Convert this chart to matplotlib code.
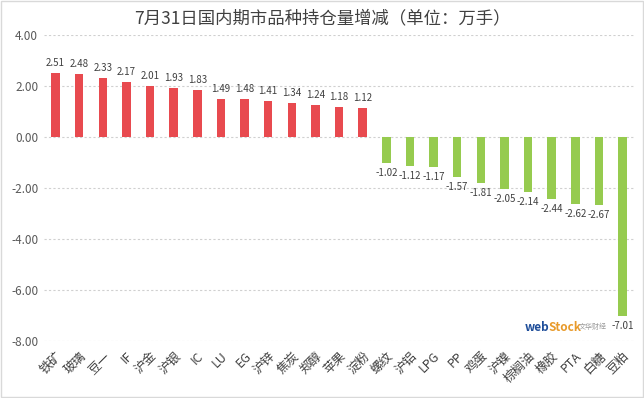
import numpy as np
import matplotlib.pyplot as plt

plt.rcParams['font.family'] = ['Noto Sans CJK SC', 'DejaVu Sans']

# 品种与持仓量增减（万手）
names = ['铁矿', '玻璃', '豆一', 'IF', '沪金', '沪银', 'IC', 'LU', 'EG', '沪锌',
         '焦炭', '郑醇', '苹果', '淀粉', '螺纹', '沪铝', 'LPG', 'PP', '鸡蛋', '沪镍',
         '棕榈油', '橡胶', 'PTA', '白糖', '豆粕']
values = [2.51, 2.48, 2.33, 2.17, 2.01, 1.93, 1.83, 1.49, 1.48, 1.41,
          1.34, 1.24, 1.18, 1.12, -1.02, -1.12, -1.17, -1.57, -1.81, -2.05,
          -2.14, -2.44, -2.62, -2.67, -7.01]
yticks = [4, 2, 0, -2, -4, -6, -8]

red = '#E84A4F'
green = '#96CB4F'

fig = plt.figure(figsize=(6.44, 3.98), dpi=100)
fig.patches.append(plt.Rectangle((0.002, 0.002), 0.996, 0.996, transform=fig.transFigure,
                                 fill=False, edgecolor='#D9D9D9', linewidth=1))
ax = fig.add_axes([0.068, 0.143, 0.917, 0.769])

x = np.arange(len(names))
colors = [red if v > 0 else green for v in values]
ax.bar(x, values, width=0.36, color=colors, zorder=3)

for xi, v in zip(x, values):
    if v > 0:
        ax.text(xi, v + 0.2, '%.2f' % v, ha='center', va='bottom', fontsize=7, color='#404040')
    else:
        ax.text(xi, v - 0.2, '%.2f' % v, ha='center', va='top', fontsize=7, color='#404040')

ax.set_xlim(-0.5, len(names) - 0.5)
ax.set_ylim(-8, 4)
ax.set_yticks(yticks)
ax.set_yticklabels(['%.2f' % t for t in yticks], fontsize=8.5, color='#595959')
ax.set_xticks(x)
ax.set_xticklabels(names, rotation=45, ha='right', rotation_mode='anchor',
                   fontsize=9, color='#404040')
ax.tick_params(axis='y', length=0, pad=4)
ax.tick_params(axis='x', length=0, pad=6)
ax.grid(axis='y', linestyle=(0, (2, 2)), color='#D0D0D0', linewidth=0.8, zorder=0)
for s in ax.spines.values():
    s.set_visible(False)

fig.text(0.5, 0.955, '7月31日国内期市品种持仓量增减（单位：万手）', ha='center', va='center',
         fontsize=12.5, color='#404040')

# 水印
fig.text(0.815, 0.178, 'web', fontsize=8.5, color='#1F4E9A', fontweight='bold', ha='left', va='center')
fig.text(0.852, 0.178, 'Stock', fontsize=8.5, color='#E89A2A', fontweight='bold', ha='left', va='center')
fig.text(0.899, 0.178, '文华财经', fontsize=5, color='#9A9A9A', ha='left', va='center')

fig.savefig('out.png', dpi=100)
